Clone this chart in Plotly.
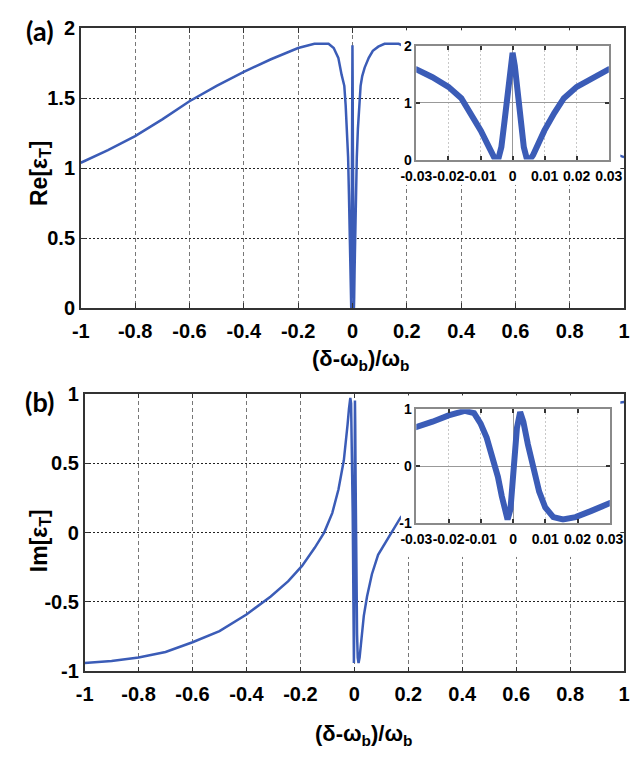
import plotly.graph_objects as go

# ---------------- data ----------------
re_x = [-1.0, -0.9, -0.8, -0.7, -0.6, -0.5, -0.4, -0.3, -0.2, -0.14, -0.11, -0.088,
        -0.069, -0.052, -0.04, -0.03, -0.025, -0.02, -0.016, -0.013, -0.0099,
        -0.0079, -0.0064, -0.0054, -0.0045, -0.0035, -0.0025, -0.0015, -0.0007, 0.0,
        0.0007, 0.0015, 0.0025, 0.0035, 0.0045, 0.0054, 0.0064, 0.0079, 0.0099,
        0.013, 0.016, 0.02, 0.025, 0.03, 0.036, 0.045, 0.06, 0.075, 0.095, 0.118,
        0.17, 0.3, 0.5, 0.7, 0.85, 1.0]
re_y = [1.04, 1.13, 1.23, 1.35, 1.48, 1.59, 1.69, 1.78, 1.86, 1.89, 1.89, 1.89,
        1.86, 1.79, 1.67, 1.59, 1.45, 1.28, 1.08, 0.82, 0.51,
        0.28, 0.08, 0.0, 0.0, 0.22, 0.68, 1.19, 1.65, 1.88,
        1.65, 1.19, 0.68, 0.22, 0.0, 0.0, 0.08, 0.28, 0.51,
        0.82, 1.08, 1.28, 1.45, 1.59, 1.66, 1.72, 1.79, 1.84, 1.87, 1.89,
        1.89, 1.78, 1.55, 1.33, 1.18, 1.08]

im_x = [-1.0, -0.9, -0.8, -0.7, -0.6, -0.5, -0.4, -0.31, -0.245, -0.194, -0.147,
        -0.112, -0.082, -0.059, -0.039, -0.03, -0.025, -0.02, -0.015, -0.0121,
        -0.0101, -0.0082, -0.0062, -0.0047, -0.0035, -0.0025, -0.0017, -0.0008,
        0.0002, 0.0012, 0.0022, 0.0032, 0.0046, 0.0061, 0.0081, 0.01, 0.0125,
        0.0155, 0.0194, 0.0243, 0.0302, 0.035, 0.047, 0.065, 0.088, 0.124, 0.171,
        0.3, 0.5, 0.7, 0.85, 1.0]
im_y = [-0.94, -0.925, -0.90, -0.86, -0.79, -0.71, -0.59, -0.46, -0.35, -0.24, -0.11,
        0.0, 0.14, 0.31, 0.52, 0.67, 0.78, 0.89, 0.97, 0.93,
        0.75, 0.50, 0.15, -0.19, -0.53, -0.82, -0.94, -0.76,
        -0.07, 0.67, 0.95, 0.78, 0.38, -0.02, -0.45, -0.73, -0.90,
        -0.94, -0.90, -0.79, -0.65, -0.60, -0.46, -0.30, -0.16, -0.04, 0.107,
        0.40, 0.65, 0.82, 0.90, 0.94]

main_x_ticks = [-1, -0.8, -0.6, -0.4, -0.2, 0, 0.2, 0.4, 0.6, 0.8, 1]
main_x_text = ["-1", "-0.8", "-0.6", "-0.4", "-0.2", "0", "0.2", "0.4", "0.6", "0.8", "1"]
re_ticks = [0, 0.5, 1, 1.5, 2]
re_text = ["0", "0.5", "1", "1.5", "2"]
im_ticks = [-1, -0.5, 0, 0.5, 1]
im_text = ["-1", "-0.5", "0", "0.5", "1"]
inset_x_ticks = [-0.03, -0.02, -0.01, 0, 0.01, 0.02, 0.03]
inset_x_text = ["-0.03", "-0.02", "-0.01", "0", "0.01", "0.02", "0.03"]
re_inset_ticks = [0, 1, 2]
re_inset_text = ["0", "1", "2"]
im_inset_ticks = [-1, 0, 1]
im_inset_text = ["-1", "0", "1"]

# ---------------- styling ----------------
W, H = 640, 765
BLUE = "#3b5cb7"
TICKFONT = dict(family="Liberation Sans Narrow, Liberation Sans, Arial, sans-serif",
                size=20, color="black", weight="bold")
INSETFONT = dict(TICKFONT, size=14)
TITLEFONT = dict(family="Liberation Sans, Arial, sans-serif", size=22, color="black")


def xd(p0, p1):
    return [p0 / W, p1 / W]


def yd(top, bottom):
    return [1 - bottom / H, 1 - top / H]


fig = go.Figure()
fig.add_trace(go.Scatter(x=re_x, y=re_y, xaxis="x", yaxis="y", mode="lines",
                         line=dict(color=BLUE, width=2.5), showlegend=False))
fig.add_trace(go.Scatter(x=im_x, y=im_y, xaxis="x2", yaxis="y2", mode="lines",
                         line=dict(color=BLUE, width=2.5), showlegend=False))
# empty traces on the two white "paper" subplots behind the insets
fig.add_trace(go.Scatter(x=[], y=[], xaxis="x3", yaxis="y3", showlegend=False))
fig.add_trace(go.Scatter(x=[], y=[], xaxis="x4", yaxis="y4", showlegend=False))
fig.add_trace(go.Scatter(x=re_x, y=re_y, xaxis="x5", yaxis="y5", mode="lines",
                         line=dict(color=BLUE, width=6), showlegend=False))
fig.add_trace(go.Scatter(x=im_x, y=im_y, xaxis="x6", yaxis="y6", mode="lines",
                         line=dict(color=BLUE, width=6), showlegend=False))

main_common = dict(showline=True, linecolor="#333", linewidth=1.5, mirror="ticks",
                   ticks="inside", ticklen=5, tickcolor="#333", tickfont=TICKFONT,
                   zeroline=False, showgrid=True, tickangle=0, ticklabeloverflow="allow")
mx = dict(main_common, gridcolor="#777", griddash="4px,3px", gridwidth=1,
          tickvals=main_x_ticks, ticktext=main_x_text, range=[-1, 1],
          ticklabelstandoff=4)
my = dict(main_common, gridcolor="#222", griddash="2px,2px", gridwidth=1)

inset_common = dict(showline=True, linecolor="#8a8a8a", linewidth=1.5, mirror="ticks",
                    ticks="inside", ticklen=4, tickcolor="#333", tickwidth=2,
                    tickfont=INSETFONT, showgrid=True, tickangle=0,
                    ticklabeloverflow="allow")
ix = dict(inset_common, gridcolor="#c8c8c8", griddash="2px,2px", zeroline=True,
          zerolinecolor="#999", zerolinewidth=1, tickvals=inset_x_ticks,
          ticktext=inset_x_text, range=[-0.03002, 0.03002], ticklabelstandoff=3)
iy = dict(inset_common, gridcolor="#999", zeroline=False)

hidden = dict(visible=False, range=[0, 1], showgrid=False, zeroline=False, fixedrange=True)

fig.update_layout(
    width=W, height=H, margin=dict(l=0, r=0, t=0, b=0),
    paper_bgcolor="white", plot_bgcolor="white", showlegend=False,
    xaxis=dict(mx, domain=xd(68, 638), anchor="y"),
    yaxis=dict(my, domain=yd(18, 306), anchor="x", range=[0, 2],
               tickvals=re_ticks, ticktext=re_text),
    xaxis2=dict(mx, domain=xd(72, 638), anchor="y2"),
    yaxis2=dict(my, domain=yd(394, 680), anchor="x2", range=[-1, 1],
                tickvals=im_ticks, ticktext=im_text),
    # white boxes behind insets
    xaxis3=dict(hidden, domain=xd(404, 634), anchor="y3"),
    yaxis3=dict(hidden, domain=yd(20, 179), anchor="x3"),
    xaxis4=dict(hidden, domain=xd(404, 634), anchor="y4"),
    yaxis4=dict(hidden, domain=yd(396, 562), anchor="x4"),
    # insets
    xaxis5=dict(ix, domain=xd(420, 622), anchor="y5"),
    yaxis5=dict(iy, domain=yd(36, 153), anchor="x5", range=[0, 2],
                tickvals=re_inset_ticks, ticktext=re_inset_text),
    xaxis6=dict(ix, domain=xd(420, 623), anchor="y6"),
    yaxis6=dict(iy, domain=yd(410, 527), anchor="x6", range=[-1, 1],
                tickvals=im_inset_ticks, ticktext=im_inset_text),
)

for xr, yr in [("x3", "y3"), ("x4", "y4")]:
    fig.add_shape(type="rect", xref=xr, yref=yr, layer="below", x0=0, x1=1, y0=0, y1=1,
                  fillcolor="white", line=dict(width=0))

ann = []
for cx, top, in [(361, 343), (365, 729)]:
    ann.append(dict(text="<b>(δ-ω<sub>b</sub>)/ω<sub>b</sub></b>", x=cx / W, y=1 - top / H,
                    xref="paper", yref="paper", xanchor="center", yanchor="top",
                    showarrow=False, font=TITLEFONT))
for label, cy in [("Re[ε<sub>T</sub>]", 167), ("Im[ε<sub>T</sub>]", 545)]:
    ann.append(dict(text="<b>" + label + "</b>", x=25 / W, y=1 - cy / H, xref="paper",
                    yref="paper", xanchor="center", yanchor="middle", textangle=-90,
                    showarrow=False, font=dict(TITLEFONT, size=23)))
for label, cy in [("(a)", 20), ("(b)", 402)]:
    ann.append(dict(text="<b>" + label + "</b>", x=25 / W, y=1 - cy / H, xref="paper",
                    yref="paper", xanchor="center", yanchor="middle", showarrow=False,
                    font=dict(family="Lato, Noto Sans, sans-serif", size=27, color="black")))
fig.update_layout(annotations=ann)

fig.write_html("out.html")
